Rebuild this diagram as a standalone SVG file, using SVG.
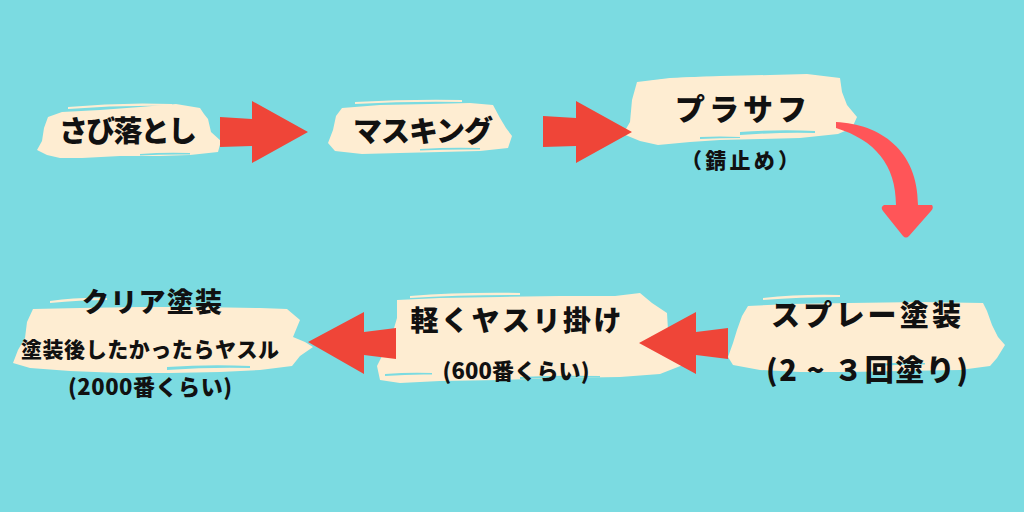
<svg xmlns="http://www.w3.org/2000/svg" width="1024" height="512" viewBox="0 0 1024 512">
<defs>
<style>
.bg{fill:#7BDBE1}
.brush{fill:#FEEDD2}
.streak{fill:#FEEDD2}
.cut{fill:#7BDBE1}
.arrow{fill:#EF4538}
.curve{fill:#FF5558}
text{font-family:"Noto Sans CJK JP","Noto Sans",sans-serif;font-weight:900;fill:#111;text-anchor:middle;dominant-baseline:central}
</style>
</defs>
<rect class="bg" x="0" y="0" width="1024" height="512"/>

<g id="node-sabi">
<path class="streak" d="M68 107 Q120 102 172 104 L172 106 Q120 105 68 109 Z"/>
<path class="brush" d="M48 117 L62 112 L100 110 L140 107 L176 104 L200 108 L204 114 L208 119 L211 132 L221 141 L218 152 L190 155 L160 156 L120 156 L82 158 L60 158 L47 155 L37 150 L42 141 L44 128 Z"/>
<path class="cut" d="M140 154 Q165 152 190 153 L190 154.5 Q165 154 140 155.5 Z"/>
<text x="128" y="129" font-size="29" textLength="138" lengthAdjust="spacing">さび落とし</text>
</g>

<g id="node-masking">
<path class="streak" d="M355 102 Q410 99 462 100 L462 102 Q410 101 355 104 Z"/>
<path class="brush" d="M342 108 L380 105 L430 104 L470 103 L493 105 L500 118 L506 128 L512 136 L508 148 L480 151 L440 152 L400 153 L362 154 L335 151 L328 143 L333 130 L336 116 Z"/>
<path class="cut" d="M420 149 Q450 147 480 148 L480 149.5 Q450 149 420 150.5 Z"/>
<text x="423" y="129" font-size="29" textLength="140" lengthAdjust="spacing">マスキング</text>
</g>

<g id="node-prasafu">
<path class="streak" d="M650 81 Q690 76 715 77 L715 79 Q690 79 650 83 Z"/>
<path class="brush" d="M637 82 L670 78 L720 76 L770 75 L807 74 L840 78 L842 92 L847 105 L857 117 L852 128 L838 134 L800 138 L760 139 L720 140 L690 142 L658 145 L640 141 L623 134 L630 122 L632 100 Z"/>
<path class="cut" d="M740 132 Q780 129 815 131 L815 133 Q780 132 740 135 Z"/>
<path class="cut" d="M700 137 Q720 136 740 137 L740 138 Q720 138 700 139 Z"/>
<text x="741" y="107" font-size="30" textLength="132" lengthAdjust="spacing">プラサフ</text>
<text x="740" y="159" font-size="21" textLength="118" lengthAdjust="spacing">（錆止め）</text>
</g>

<g id="node-spray">
<path class="streak" d="M763 298 Q800 294 840 295 L840 297 Q800 297 763 300 Z"/>
<path class="brush" d="M748 306 L790 304 L850 303 L920 302 L983 303 L987 311 L992 325 L998 337 L1005 345 L997 358 L990 366 L960 370 L900 371 L850 372 L800 372 L760 370 L733 365 L728 357 L733 343 L737 330 L742 316 Z"/>
<path class="cut" d="M877 364 Q900 362 925 363 L925 364.5 Q900 364 877 366 Z"/>
<text x="866" y="313" font-size="29" textLength="190" lengthAdjust="spacing">スプレー塗装</text>
<text x="867" y="368" font-size="29" textLength="202" lengthAdjust="spacing">(2 ~ ３回塗り)</text>
</g>

<g id="node-yasuri">
<path class="streak" d="M410 296 Q460 292 520 293 L520 295 Q460 295 410 298 Z"/>
<path class="brush" d="M397 300 L440 298 L500 297 L560 296 L615 296 L640 293 L652 303 L667 313 L668 330 L675 345 L683 365 L660 374 L620 377 L560 378 L500 380 L440 381 L400 383 L380 380 L377 366 L385 350 L392 335 L397 318 Z"/>
<path class="cut" d="M385 374 Q410 372 432 373 L432 374.5 Q410 374 385 376 Z"/>
<path class="cut" d="M520 377 Q560 375 600 376 L600 377.5 Q560 377 520 379 Z"/>
<text x="516" y="319" font-size="28" textLength="211" lengthAdjust="spacing">軽くヤスリ掛け</text>
<text x="516" y="369" font-size="22" textLength="147" lengthAdjust="spacing">(600番くらい)</text>
</g>

<g id="node-clear">
<path class="streak" d="M50 301 Q80 297 107 298 L107 300 Q80 300 50 303 Z"/>
<path class="brush" d="M33 309 L80 308 L140 307 L200 307 L260 308 L287 309 L300 320 L293 337 L305 342 L313 347 L300 356 L292 366 L260 370 L220 372 L170 373 L120 373 L70 371 L30 368 L13 363 L18 350 L25 338 L27 322 Z"/>
<path class="cut" d="M167 367 Q210 364 250 366 L250 368 Q210 367 167 370 Z"/>
<text x="152" y="300" font-size="27" textLength="140" lengthAdjust="spacing">クリア塗装</text>
<text x="150" y="348" font-size="21" textLength="258" lengthAdjust="spacing">塗装後したかったらヤスル</text>
<text x="150" y="385" font-size="22" textLength="164" lengthAdjust="spacing">(2000番くらい)</text>
</g>

<g id="connectors">
<polygon class="arrow" points="220,117 252,119 252,101 308,132 252,163 252,146 220,147"/>
<polygon class="arrow" points="543,116 576,118 576,101 632,132 576,163 576,146 543,147"/>
<path class="curve" d="M836 122 C880 124 918 150 918 205 L932 205 Q934 208 931 211 L909 236 Q906 239 903 236 L883 211 Q880 207 884 205 L896 205 C896 165 875 140 836 128 Z"/>
<polygon class="arrow" points="728,328 696,332 696,312 639,343 696,374 696,355 728,359"/>
<polygon class="arrow" points="396,328 364,332 364,312 308,342 364,374 364,355 396,359"/>
</g>
</svg>
